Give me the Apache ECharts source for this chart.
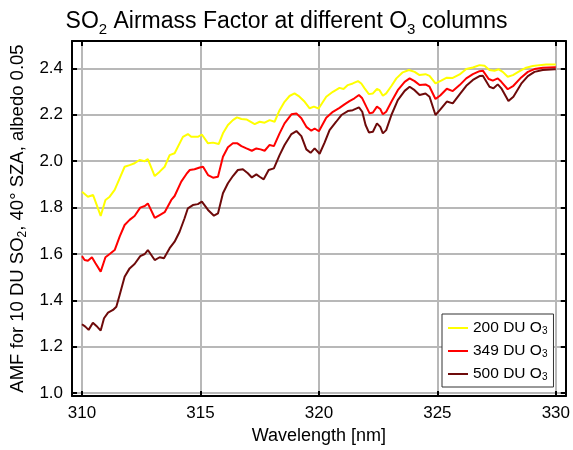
<!DOCTYPE html>
<html>
<head>
<meta charset="utf-8">
<script src="https://cdn.jsdelivr.net/npm/echarts@6/dist/echarts.min.js"></script>
<style>html,body{margin:0;padding:0;background:#fff}#c{width:573px;height:450px}</style>
</head>
<body>
<div id="c"></div>
<script>
const xTicks = [310, 315, 320, 325, 330];
const yTicks = [1.0, 1.2, 1.4, 1.6, 1.8, 2.0, 2.2, 2.4];
const seriesNames = ['200 DU O3', '349 DU O3', '500 DU O3'];

const amf200 = [[310.0,1.868],[310.25,1.847],[310.47,1.854],[310.79,1.764],[310.99,1.833],[311.17,1.847],[311.38,1.876],[311.59,1.926],[311.80,1.976],[312.01,1.983],[312.22,1.991],[312.43,2.005],[312.65,2.0],[312.78,2.009],[313.07,1.936],[313.28,1.955],[313.49,1.976],[313.70,2.026],[313.91,2.034],[314.26,2.105],[314.47,2.117],[314.61,2.105],[314.89,2.105],[315.06,2.115],[315.32,2.077],[315.53,2.080],[315.77,2.074],[315.95,2.120],[316.16,2.156],[316.37,2.177],[316.54,2.189],[316.73,2.182],[316.94,2.180],[317.29,2.160],[317.50,2.170],[317.71,2.166],[317.92,2.177],[318.13,2.170],[318.34,2.220],[318.55,2.256],[318.76,2.281],[318.97,2.292],[319.18,2.278],[319.40,2.256],[319.61,2.228],[319.79,2.235],[319.99,2.227],[320.31,2.278],[320.59,2.299],[320.87,2.316],[321.04,2.311],[321.22,2.328],[321.43,2.335],[321.65,2.345],[321.79,2.335],[321.93,2.314],[322.11,2.289],[322.28,2.292],[322.45,2.311],[322.56,2.306],[322.70,2.282],[322.84,2.292],[323.06,2.324],[323.27,2.357],[323.54,2.383],[323.80,2.393],[324.04,2.385],[324.25,2.371],[324.50,2.375],[324.67,2.368],[324.92,2.335],[325.16,2.347],[325.40,2.360],[325.65,2.359],[325.94,2.374],[326.22,2.397],[326.50,2.404],[326.78,2.414],[326.99,2.411],[327.20,2.393],[327.41,2.390],[327.59,2.396],[327.76,2.385],[327.97,2.364],[328.19,2.371],[328.47,2.388],[328.75,2.403],[329.03,2.410],[329.31,2.414],[329.59,2.417],[329.95,2.417],[330.0,2.417]];

const amf349 = [[310.0,1.591],[310.11,1.574],[310.25,1.571],[310.42,1.586],[310.57,1.560],[310.79,1.524],[310.99,1.586],[311.17,1.600],[311.38,1.617],[311.59,1.675],[311.80,1.725],[312.01,1.747],[312.22,1.764],[312.46,1.800],[312.65,1.807],[312.78,1.818],[313.07,1.756],[313.28,1.768],[313.49,1.780],[313.77,1.833],[313.91,1.850],[314.19,1.912],[314.41,1.945],[314.55,1.962],[314.75,1.965],[314.97,1.973],[315.11,1.976],[315.32,1.940],[315.53,1.929],[315.74,1.933],[315.95,2.019],[316.16,2.060],[316.37,2.077],[316.56,2.077],[316.73,2.065],[316.94,2.055],[317.17,2.045],[317.36,2.055],[317.54,2.051],[317.71,2.045],[317.92,2.070],[318.10,2.065],[318.34,2.120],[318.55,2.163],[318.84,2.202],[319.05,2.206],[319.26,2.185],[319.47,2.148],[319.68,2.131],[319.82,2.141],[320.0,2.129],[320.31,2.187],[320.59,2.213],[320.87,2.230],[321.08,2.245],[321.29,2.259],[321.50,2.271],[321.69,2.285],[321.83,2.271],[322.00,2.235],[322.14,2.206],[322.28,2.210],[322.45,2.235],[322.59,2.225],[322.70,2.202],[322.84,2.213],[323.06,2.256],[323.33,2.306],[323.62,2.342],[323.83,2.357],[324.04,2.345],[324.25,2.328],[324.50,2.331],[324.67,2.321],[324.92,2.268],[325.12,2.283],[325.40,2.312],[325.65,2.302],[325.94,2.328],[326.22,2.357],[326.50,2.375],[326.78,2.388],[326.92,2.390],[327.17,2.354],[327.34,2.347],[327.55,2.357],[327.70,2.342],[327.97,2.310],[328.21,2.325],[328.54,2.361],[328.82,2.385],[329.10,2.397],[329.45,2.403],[329.95,2.405],[330.0,2.405]];

const amf500 = [[310.0,1.297],[310.14,1.287],[310.28,1.273],[310.46,1.304],[310.61,1.290],[310.79,1.270],[310.93,1.323],[311.10,1.347],[311.31,1.359],[311.45,1.373],[311.59,1.423],[311.80,1.502],[312.01,1.538],[312.22,1.557],[312.46,1.591],[312.65,1.600],[312.78,1.617],[313.07,1.574],[313.28,1.586],[313.46,1.582],[313.70,1.625],[313.91,1.653],[314.12,1.696],[314.33,1.754],[314.47,1.797],[314.68,1.811],[314.89,1.815],[315.06,1.826],[315.32,1.790],[315.57,1.765],[315.74,1.775],[315.95,1.862],[316.16,1.905],[316.37,1.936],[316.58,1.962],[316.79,1.965],[317.00,1.948],[317.17,1.930],[317.36,1.943],[317.50,1.933],[317.67,1.922],[317.88,1.962],[318.10,1.969],[318.34,2.026],[318.55,2.070],[318.84,2.117],[319.05,2.130],[319.26,2.108],[319.47,2.051],[319.65,2.036],[319.82,2.055],[320.03,2.032],[320.24,2.080],[320.45,2.134],[320.73,2.170],[320.95,2.199],[321.22,2.216],[321.43,2.220],[321.69,2.232],[321.83,2.213],[321.97,2.156],[322.11,2.124],[322.28,2.127],[322.45,2.163],[322.59,2.148],[322.70,2.120],[322.84,2.134],[323.06,2.199],[323.33,2.263],[323.62,2.303],[323.83,2.321],[324.04,2.306],[324.25,2.285],[324.50,2.292],[324.67,2.278],[324.92,2.199],[325.12,2.222],[325.40,2.257],[325.65,2.249],[325.94,2.288],[326.22,2.325],[326.50,2.350],[326.78,2.367],[326.92,2.368],[327.20,2.321],[327.37,2.314],[327.55,2.331],[327.70,2.314],[328.00,2.259],[328.21,2.278],[328.54,2.334],[328.82,2.367],[329.10,2.385],[329.45,2.393],[329.95,2.396],[330.0,2.396]];

const colors = ['#ffff00', '#ff0000', '#6e0a0a'];
const FONT = 'Liberation Sans, Arial, Helvetica, sans-serif';
const X_MIN = 309.58, X_MAX = 330.42, Y_MIN = 0.988, Y_MAX = 2.518;

const subRich = (size, base) => ({
  a: { fontSize: size, fontFamily: FONT, fontWeight: 'normal', color: '#000', lineHeight: base },
  s: { fontSize: Math.round(size * 0.65), fontFamily: FONT, fontWeight: 'normal', color: '#000', lineHeight: Math.round(size*0.4), verticalAlign: 'bottom' }
});

const chart = echarts.init(document.getElementById('c'), null, { renderer: 'canvas' });
const tickStyle = { show: true, inside: true, length: 5, lineStyle: { color: '#000', width: 2 } };
const lineAxis = { show: true, onZero: false, lineStyle: { color: '#000', width: 2 } };

chart.setOption({
  animation: false,
  backgroundColor: '#fff',
  title: {
    text: '{a|SO}{s|2}{a| Airmass Factor at different O}{s|3}{a| columns}',
    left: 'center', top: 2,
    textStyle: { fontWeight: 'normal', rich: subRich(23, 30) }
  },
  grid: { left: 72, right: 7, top: 41, bottom: 54, containLabel: false },
  legend: {
    orient: 'vertical', left: 442, top: 314,
    padding: [6, 6, 5, 6], itemGap: 7, itemWidth: 20, itemHeight: 2,
    icon: 'rect',
    backgroundColor: '#fff', borderColor: '#333', borderWidth: 1, borderRadius: 0,
    data: seriesNames,
    formatter: (n) => '{a|' + n.slice(0, -1) + '}{s|' + n.slice(-1) + '}',
    textStyle: { rich: subRich(15.5, 16) }
  },
  xAxis: [{
    type: 'value', min: X_MIN, max: X_MAX, position: 'bottom',
    name: 'Wavelength [nm]', nameLocation: 'middle', nameGap: 31,
    nameTextStyle: { fontSize: 18, fontFamily: FONT, color: '#000' },
    axisLine: lineAxis,
    axisTick: Object.assign({ customValues: xTicks }, tickStyle),
    axisLabel: { customValues: xTicks, fontSize: 17, fontFamily: FONT, color: '#000', margin: 9, formatter: v => String(Math.round(v)) },
    splitLine: { show: true, lineStyle: { color: '#b8b8b8', width: 2 } }
  }, {
    type: 'value', min: X_MIN, max: X_MAX, position: 'top',
    axisLine: lineAxis,
    axisTick: Object.assign({ customValues: xTicks }, tickStyle),
    axisLabel: { show: false },
    splitLine: { show: false }
  }],
  yAxis: [{
    type: 'value', min: Y_MIN, max: Y_MAX, position: 'left',
    name: '{a|AMF for 10 DU SO}{s|2}{a|, 40° SZA, albedo 0.05}',
    nameLocation: 'middle', nameGap: 39, nameRotate: 90,
    nameTextStyle: { rich: subRich(18.5, 22) },
    axisLine: lineAxis,
    axisTick: Object.assign({ customValues: yTicks }, tickStyle),
    axisLabel: { customValues: yTicks, fontSize: 17, fontFamily: FONT, color: '#000', margin: 9, formatter: v => v.toFixed(1) },
    splitLine: { show: true, lineStyle: { color: '#b8b8b8', width: 2 } }
  }, {
    type: 'value', min: Y_MIN, max: Y_MAX, position: 'right',
    axisLine: lineAxis,
    axisTick: Object.assign({ customValues: yTicks }, tickStyle),
    axisLabel: { show: false },
    splitLine: { show: false }
  }],
  series: [amf200, amf349, amf500].map((d, i) => ({
    name: seriesNames[i], type: 'line', data: d,
    xAxisIndex: 0, yAxisIndex: 0,
    showSymbol: false, symbol: 'none', smooth: false,
    lineStyle: { color: colors[i], width: 2 },
    itemStyle: { color: colors[i] },
    z: 3 + i
  }))
});
</script>
</body>
</html>
